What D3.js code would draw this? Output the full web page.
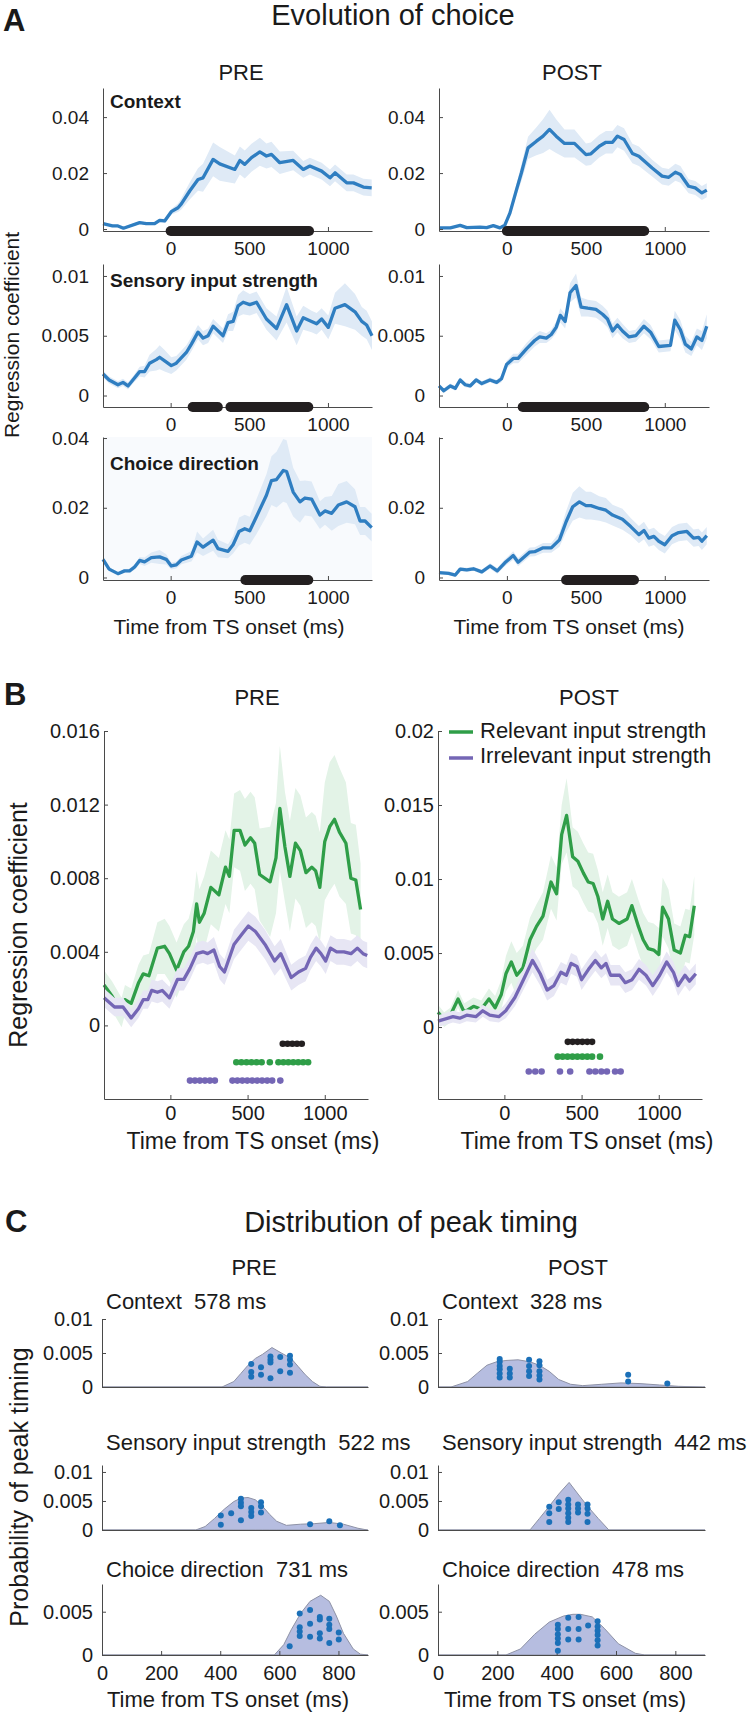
<!DOCTYPE html>
<html>
<head>
<meta charset="utf-8">
<script src="https://cdn.jsdelivr.net/npm/d3@7"></script>
<style>
  body { margin: 0; background: #fff; }
</style>
</head>
<body>
<script>
// ---------- Panel A: [time ms, coefficient, sem] ----------
const preContext = [[-430,.0019,.0005],[-370,.0011,.0005],[-335,.0011,.0005],[-300,.0003,.0005],[-197,.0023,.0005],[-155,.0019,.0005],[-102,.0019,.0005],[-70,.0031,.0006],[-38,.0029,.0008],[4,.0062,.001],[47,.0076,.0015],[68,.009,.002],[121,.0136,.003],[174,.0177,.004],[206,.0183,.005],[270,.0249,.006],[312,.0233,.006],[408,.0213,.005],[440,.0245,.005],[471,.0231,.005],[514,.0255,.005],[567,.0276,.005],[609,.0261,.0045],[641,.0267,.0045],[694,.0237,.004],[779,.0245,.0035],[843,.0213,.003],[885,.0225,.003],[960,.0207,.003],[1013,.0183,.003],[1045,.0201,.003],[1119,.0165,.003],[1162,.0165,.003],[1225,.015,.003],[1278,.0147,.003]];
const postContext = [[-430,.0004,.0004],[-358,.0004,.0004],[-296,.0013,.0004],[-254,.0005,.0004],[-170,.0007,.0004],[-128,.0005,.0004],[-86,.0012,.0004],[-44,.0004,.0004],[-13,.0014,.0005],[19,.0057,.001],[61,.0141,.002],[92,.0201,.003],[134,.029,.004],[187,.0314,.005],[229,.0332,.006],[270,.0356,.007],[312,.0332,.006],[365,.0306,.005],[428,.0306,.005],[501,.0266,.004],[532,.0269,.004],[585,.0296,.004],[627,.031,.004],[669,.031,.004],[700,.0332,.004],[742,.032,.004],[795,.027,.0035],[836,.026,.0035],[920,.0218,.003],[983,.0189,.003],[1025,.0185,.003],[1067,.0203,.003],[1099,.0195,.003],[1151,.0153,.0025],[1193,.0147,.0025],[1235,.0129,.0025],[1266,.0139,.0025]];
const preSensory = [[-430,.0018,.0003],[-391,.0013,.0003],[-335,.0009,.0003],[-303,.0011,.0003],[-271,.0008,.0003],[-240,.0013,.0003],[-197,.002,.0004],[-166,.002,.0005],[-134,.0027,.0007],[-91,.003,.0009],[-70,.0032,.001],[-38,.0029,.0009],[4,.0025,.0007],[36,.0027,.0006],[100,.0036,.0006],[132,.0043,.0006],[174,.0053,.0006],[206,.0048,.0006],[238,.005,.0006],[270,.0058,.0006],[333,.005,.0006],[365,.0061,.0007],[397,.0062,.0008],[429,.0075,.0009],[461,.0078,.001],[503,.0076,.0009],[546,.0078,.0009],[609,.0064,.0009],[673,.0056,.001],[737,.0076,.0015],[801,.0054,.0012],[843,.0065,.001],[896,.0062,.0009],[928,.006,.0009],[960,.0064,.0009],[1002,.0057,.001],[1045,.0073,.0013],[1108,.0076,.0018],[1172,.007,.0015],[1215,.0062,.0012],[1246,.0059,.0012],[1280,.005,.0012]];
const postSensory = [[-430,.0008,.0002],[-400,.0004,.0002],[-358,.0008,.0002],[-327,.0006,.0002],[-296,.0013,.0002],[-264,.0009,.0002],[-233,.0008,.0002],[-195,.0013,.0002],[-159,.001,.0002],[-107,.0013,.0002],[-65,.0011,.0002],[-34,.0014,.0003],[-2,.0026,.0003],[40,.0031,.0004],[71,.0031,.0004],[124,.0039,.0005],[176,.0046,.0005],[208,.0049,.0005],[250,.0048,.0004],[281,.0051,.0004],[312,.0057,.0005],[338,.0067,.0006],[369,.0062,.0006],[400,.0086,.0008],[438,.0092,.001],[470,.0074,.0008],[512,.0073,.0007],[564,.0072,.0007],[606,.0068,.0007],[637,.0064,.0007],[669,.0054,.0006],[700,.0059,.0006],[732,.0054,.0006],[774,.0049,.0005],[816,.005,.0005],[868,.0058,.0006],[910,.0053,.0006],[962,.0041,.0005],[1036,.0042,.0005],[1063,.0063,.0008],[1099,.0055,.0008],[1130,.0043,.0007],[1168,.0039,.0006],[1203,.0049,.0007],[1235,.0046,.0008],[1266,.0058,.001]];
const preChoice = [[-430,.0052,.0008],[-391,.0024,.0006],[-335,.0011,.0005],[-293,.0019,.0005],[-261,.0019,.0006],[-229,.003,.0008],[-197,.0049,.001],[-166,.0045,.0012],[-123,.0057,.0015],[-70,.0059,.002],[-28,.0052,.0015],[4,.0033,.001],[36,.0036,.001],[68,.005,.0012],[132,.0061,.0015],[168,.0102,.003],[206,.0087,.0025],[270,.0107,.003],[301,.0083,.0025],[365,.0075,.002],[397,.0094,.0025],[435,.0132,.004],[471,.014,.004],[503,.0134,.004],[546,.0175,.005],[609,.0236,.006],[641,.0278,.007],[673,.0281,.008],[716,.0307,.009],[737,.0304,.009],[779,.0245,.007],[822,.0217,.006],[854,.0228,.005],[896,.0225,.005],[949,.0179,.004],[981,.0191,.004],[1024,.0184,.005],[1066,.0208,.006],[1119,.0217,.006],[1172,.0203,.005],[1204,.0162,.004],[1236,.0162,.004],[1278,.0143,.004]];
const postChoice = [[-430,.0014,.0005],[-369,.0012,.0005],[-327,.0007,.0005],[-296,.0024,.0006],[-254,.0022,.0006],[-212,.0025,.0006],[-159,.0016,.0006],[-107,.0033,.0008],[-61,.0019,.0008],[-13,.0042,.001],[40,.0063,.0012],[71,.0044,.0012],[145,.0073,.0013],[176,.0074,.0013],[229,.0085,.0014],[281,.0085,.0014],[333,.0108,.002],[375,.016,.003],[417,.0203,.004],[459,.0217,.0045],[501,.0206,.004],[532,.0206,.004],[585,.0198,.0035],[627,.0193,.0035],[669,.0179,.003],[732,.0167,.003],[784,.0146,.0025],[836,.0123,.0025],[868,.0135,.0025],[899,.0113,.0025],[931,.0118,.0025],[962,.0104,.0025],[1000,.0094,.0025],[1046,.012,.0025],[1088,.0129,.0025],[1140,.0132,.0025],[1182,.0113,.0025],[1214,.0115,.0025],[1235,.0104,.0025],[1266,.012,.0025]];
// significant intervals (ms)
const preContextSig = [[0, 880]];
const postContextSig = [[0, 870]];
const preSensorySig = [[140, 300], [380, 875]];
const postSensorySig = [[100, 870]];
const preChoiceSig = [[475, 875]];
const postChoiceSig = [[375, 805]];

const xTicksAB = [0, 500, 1000];
const yTicksA1 = [0, 0.02, 0.04];
const yTicksA2 = [0, 0.005, 0.01];
const yTicksA3 = [0, 0.02, 0.04];

// ---------- Panel B ----------
const preRelevant = [[-430,.0022,.0008],[-378,.0016,.0008],[-316,.0007,.0008],[-294,.0014,.0008],[-254,.0012,.0008],[-207,.0023,.001],[-176,.0028,.001],[-139,.0027,.0012],[-84,.0042,.0014],[-37,.0043,.0015],[-6,.0039,.0015],[40,.003,.0015],[87,.004,.0015],[118,.0043,.0015],[149,.0051,.0017],[170,.0066,.0018],[188,.0056,.0018],[219,.0061,.002],[262,.0075,.002],[314,.0071,.002],[357,.0086,.002],[382,.0081,.002],[413,.0106,.002],[451,.0106,.0022],[483,.0098,.0025],[519,.0102,.0025],[546,.0099,.0025],[578,.0082,.0025],[646,.0078,.003],[684,.0091,.003],[709,.0118,.0034],[742,.0097,.003],[774,.0081,.003],[810,.0099,.003],[842,.0095,.003],[878,.0083,.003],[916,.0086,.003],[941,.0084,.003],[968,.0075,.003],[1000,.01,.0032],[1032,.0108,.0035],[1063,.0112,.0035],[1095,.0105,.0035],[1137,.0099,.0033],[1169,.008,.003],[1201,.0079,.003],[1232,.0063,.0025]];
const preIrrelevant = [[-430,.0015,.0005],[-362,.001,.0005],[-307,.001,.0005],[-254,.0004,.0005],[-207,.0009,.0005],[-176,.0014,.0005],[-146,.0014,.0005],[-121,.0019,.0006],[-84,.0018,.0006],[-53,.0019,.0006],[-6,.0015,.0006],[46,.0025,.0006],[87,.0025,.0006],[127,.0031,.0006],[170,.0039,.0006],[211,.004,.0006],[241,.0039,.0006],[282,.0041,.0007],[319,.0032,.0007],[350,.0029,.0007],[412,.0044,.0008],[458,.0049,.0008],[505,.0054,.0008],[551,.0051,.0008],[613,.0044,.0008],[675,.0035,.0008],[715,.0039,.0008],[783,.0026,.0007],[830,.0029,.0007],[876,.0031,.0007],[907,.0037,.0007],[944,.0042,.0007],[975,.0039,.0007],[1006,.0035,.0007],[1037,.0042,.0007],[1077,.004,.0007],[1124,.004,.0007],[1170,.0039,.0007],[1211,.0042,.0007],[1248,.0039,.0007],[1275,.0038,.0007]];
const postRelevant = [[-430,.001,.0005],[-390,.0005,.0005],[-350,.0008,.0005],[-300,.0019,.0006],[-260,.001,.0006],[-200,.0014,.0006],[-150,.0012,.0006],[-100,.0019,.0007],[-60,.0013,.0008],[-20,.0022,.001],[10,.0036,.0012],[45,.0044,.0014],[80,.0035,.0015],[120,.004,.0015],[166,.0059,.0015],[208,.0068,.0015],[250,.0075,.0016],[302,.0098,.0018],[338,.009,.0018],[371,.013,.002],[403,.0143,.0025],[442,.0115,.002],[476,.0112,.002],[512,.0104,.002],[543,.0098,.002],[575,.0097,.002],[606,.0088,.0018],[637,.0073,.0018],[669,.0085,.0018],[700,.0073,.0018],[742,.007,.0018],[795,.0073,.0018],[826,.0082,.0018],[868,.0068,.0018],[899,.0059,.0018],[932,.0053,.0018],[967,.0052,.0018],[1000,.0049,.0018],[1025,.0081,.002],[1063,.0073,.002],[1100,.0052,.0018],[1140,.005,.0018],[1172,.0062,.0018],[1200,.0061,.0018],[1230,.0082,.002]];
const postIrrelevant = [[-430,.0004,.0004],[-333,.0007,.0004],[-289,.0006,.0004],[-244,.0008,.0004],[-185,.0007,.0004],[-140,.0011,.0004],[-95,.0008,.0004],[-36,.0007,.0004],[9,.0011,.0005],[68,.002,.0006],[128,.0033,.0007],[182,.0045,.0008],[232,.0036,.0008],[277,.0025,.0007],[321,.0028,.0007],[366,.0037,.0007],[402,.0035,.0007],[432,.0043,.0007],[470,.0041,.0007],[500,.0032,.0007],[545,.0039,.0007],[589,.0045,.0007],[628,.004,.0007],[658,.0043,.0007],[688,.0035,.0007],[747,.0035,.0007],[783,.003,.0007],[827,.0032,.0007],[872,.0039,.0007],[917,.0035,.0007],[961,.0028,.0007],[1006,.0035,.0007],[1051,.0044,.0007],[1095,.0037,.0007],[1125,.0028,.0007],[1170,.0035,.0007],[1199,.0031,.0007],[1240,.0036,.0007]];
// significance dots (ms)
const preBothDots = [728, 759, 790, 820, 851];
const preRelDots = [427, 460, 493, 525, 558, 591, 644, 700, 732, 764, 796, 828, 860, 892];
const preIrrDots = [127, 159, 191, 224, 256, 288, 402, 434, 466, 498, 530, 562, 594, 627, 659, 712];
const postBothDots = [411, 442, 474, 505, 537, 568];
const postRelDots = [345, 377, 409, 441, 473, 505, 537, 568, 619];
const postIrrDots = [158, 200, 241, 360, 426, 551, 589, 628, 664, 717, 753];
const yTicksBPre = [0, 0.004, 0.008, 0.012, 0.016];
const yTicksBPost = [0, 0.005, 0.01, 0.015, 0.02];
const legendLabels = ["Relevant input strength", "Irrelevant input strength"];

// ---------- Panel C: density [ms, p] and peaks [ms, p] ----------
const preCtxKde = [[0,0],[406,0],[446,.0008],[470,.002],[494,.0032],[519,.0042],[543,.0048],[575,.0058],[607,.005],[640,.0042],[664,.003],[688,.0018],[712,.0008],[737,.0001],[760,0],[900,0]];
const postCtxKde = [[0,0],[44,0],[100,.0008],[132,.002],[165,.0032],[197,.0037],[229,.0039],[270,.004],[310,.0037],[342,.0032],[375,.0023],[407,.0011],[447,.0004],[488,.0002],[552,.0004],[617,.0006],[681,.0005],[746,.0003],[810,.0001],[891,0],[900,0]];
const preSenKde = [[0,0],[317,0],[349,.0006],[381,.002],[414,.0036],[446,.0049],[470,.0055],[494,.0056],[519,.0052],[543,.0041],[567,.0027],[591,.0015],[624,.0008],[672,.001],[720,.0011],[769,.0013],[817,.001],[866,.0003],[898,0],[900,0]];
const postSenKde = [[0,0],[310,0],[342,.002],[375,.0041],[407,.0062],[442,.0082],[472,.0062],[504,.0041],[540,.002],[576,0],[900,0]];
const preChoKde = [[0,0],[583,0],[615,.0012],[640,.0029],[672,.0048],[704,.0062],[740,.0069],[769,.0062],[793,.0045],[817,.0025],[850,.0007],[874,.0001],[900,0]];
const postChoKde = [[0,0],[229,0],[278,.0007],[326,.0024],[375,.0038],[423,.0045],[455,.0047],[480,.0047],[520,.0044],[560,.0031],[608,.0013],[665,.0002],[697,0],[900,0]];
const preCtxDots = [[505,.0034],[505,.0022],[505,.0015],[538,.0029],[538,.0018],[570,.0045],[570,.004],[570,.0036],[570,.0013],[603,.0044],[603,.0023],[636,.0046],[636,.004],[636,.0033],[636,.0021]];
const postCtxDots = [[208,.0041],[208,.0037],[208,.0031],[208,.0026],[208,.002],[208,.0014],[242,.0027],[242,.002],[242,.0014],[307,.004],[307,.0031],[307,.0023],[307,.0016],[342,.0038],[342,.0032],[342,.0023],[342,.0017],[342,.0011],[641,.0018],[641,.0008],[773,.0005]];
const preSenDots = [[402,.0025],[402,.0009],[437,.0029],[470,.0054],[470,.0047],[470,.0041],[470,.0017],[505,.0038],[505,.0031],[505,.0024],[538,.0048],[538,.0041],[538,.003],[704,.001],[769,.0015],[805,.0008]];
const postSenDots = [[375,.004],[375,.0029],[375,.0014],[407,.0048],[407,.0036],[439,.0052],[439,.0044],[439,.0037],[439,.0029],[439,.0021],[439,.0014],[472,.0044],[472,.0037],[472,.003],[504,.0044],[504,.0037],[504,.0028],[504,.0014]];
const preChoDots = [[635,.001],[669,.0048],[669,.0032],[669,.0027],[669,.0022],[704,.0052],[704,.0036],[704,.0021],[737,.0044],[737,.0041],[737,.0025],[737,.0019],[769,.0042],[769,.0035],[769,.003],[769,.0014],[801,.0026],[801,.0018]];
const postChoDots = [[404,.0035],[404,.003],[404,.0024],[404,.0019],[404,.0014],[404,.0005],[439,.0043],[439,.003],[439,.0018],[474,.0044],[474,.003],[474,.0018],[506,.0034],[538,.0039],[538,.0033],[538,.0028],[538,.0023],[538,.0017],[538,.0011]];
const cTitles = ["Context", "Sensory input strength", "Choice direction"];
const prePeaks = [578, 522, 731];
const postPeaks = [328, 442, 478];
const xTicksC = [0, 200, 400, 600, 800];
const yTicksC12 = [0, 0.005, 0.01];
const yTicksC3 = [0, 0.005];

// ---------- drawing ----------
const FONT = 'Arial, "Liberation Sans", Helvetica, sans-serif';
const INK = "#1a1a1a";
const AXIS = "#4a4a4a";

const svg = d3.select("body").append("svg")
    .attr("width", 747)
    .attr("height", 1717)
    .style("background", "#fff");

function label(x, y, str, size, anchor = "start", weight = "normal") {
    return svg.append("text")
        .attr("x", x).attr("y", y)
        .attr("font-family", FONT).attr("font-size", size)
        .attr("font-weight", weight).attr("text-anchor", anchor)
        .attr("fill", INK).style("white-space", "pre")
        .text(str);
}

function vlabel(x, y, str, size) {
    svg.append("text")
        .attr("transform", `translate(${x},${y}) rotate(-90)`)
        .attr("font-family", FONT).attr("font-size", size)
        .attr("text-anchor", "middle").attr("fill", INK)
        .text(str);
}

// axes box (MATLAB style: inward ticks, no outer ticks)
function axes(c) {
    const x = d3.scaleLinear().domain(c.xd).range(c.xr);
    const y = d3.scaleLinear().domain(c.yd).range(c.yr);
    const root = svg.append("g");
    const data = root.append("g");
    const ax = root.append("g");
    const top = root.append("g");
    ax.append("g").attr("transform", `translate(${c.xr[0]},0)`)
        .call(d3.axisLeft(y).tickValues(c.yTicks).tickFormat(d => String(d))
            .tickSize(-4).tickSizeOuter(0).tickPadding(c.yPad));
    ax.append("g").attr("transform", `translate(0,${c.yr[0]})`)
        .call(d3.axisBottom(x).tickValues(c.xTicks).tickFormat(d => String(d))
            .tickSize(-4).tickSizeOuter(0).tickPadding(c.xPad));
    ax.selectAll(".domain, .tick line").attr("stroke", AXIS).attr("stroke-width", 1);
    ax.selectAll(".tick text").attr("font-family", FONT).attr("font-size", c.fs).attr("fill", INK);
    return {x, y, data, top, c};
}

function timeCourse(a, series, color, band) {
    a.data.append("path").datum(series)
        .attr("fill", band)
        .attr("d", d3.area().x(d => a.x(d[0])).y0(d => a.y(d[1] - d[2])).y1(d => a.y(d[1] + d[2])));
    a.data.append("path").datum(series)
        .attr("fill", "none").attr("stroke", color).attr("stroke-width", 3.3)
        .attr("stroke-linejoin", "round")
        .attr("d", d3.line().x(d => a.x(d[0])).y(d => a.y(d[1])));
}

// ===== Panel A =====
label(3, 31, "A", 31, "start", "bold");
label(393, 25, "Evolution of choice", 29, "middle");
label(241, 80, "PRE", 22, "middle");
label(572, 80, "POST", 22, "middle");

const aRows = [
    {pre: preContext, post: postContext, preSig: preContextSig, postSig: postContextSig,
     yd: [-0.0007, 0.0504], yr: [231, 88], yTicks: yTicksA1, name: "Context", ny: 108},
    {pre: preSensory, post: postSensory, preSig: preSensorySig, postSig: postSensorySig,
     yd: [-0.00096, 0.011], yr: [407, 264], yTicks: yTicksA2, name: "Sensory input strength", ny: 287},
    {pre: preChoice, post: postChoice, preSig: preChoiceSig, postSig: postChoiceSig,
     yd: [-0.00072, 0.0403], yr: [580, 437], yTicks: yTicksA3, name: "Choice direction", ny: 470}
];

aRows.forEach((r, i) => {
    [[103, 372, r.pre, r.preSig], [439, 709, r.post, r.postSig]].forEach(([x0, x1, series, sig], j) => {
        const a = axes({xd: [-430, 1280], xr: [x0, x1], yd: r.yd, yr: r.yr,
            yTicks: r.yTicks, xTicks: xTicksAB, xPad: 11, yPad: 14, fs: 19});
        if (i === 2 && j === 0) {
            a.data.append("rect").attr("x", x0).attr("y", r.yr[1])
                .attr("width", x1 - x0).attr("height", r.yr[0] - r.yr[1]).attr("fill", "#f8fafd");
        }
        timeCourse(a, series, "#2f7ec1", "#dfeaf6");
        sig.forEach(s => {
            a.top.append("line")
                .attr("x1", a.x(s[0])).attr("x2", a.x(s[1]))
                .attr("y1", r.yr[0]).attr("y2", r.yr[0])
                .attr("stroke", "#231f20").attr("stroke-width", 10).attr("stroke-linecap", "round");
        });
    });
    label(110, r.ny, r.name, 19, "start", "bold");
});
vlabel(19, 335, "Regression coefficient", 21);
label(229, 634, "Time from TS onset (ms)", 21, "middle");
label(569, 634, "Time from TS onset (ms)", 21, "middle");

// ===== Panel B =====
label(4, 705, "B", 31, "start", "bold");
label(257, 705, "PRE", 22, "middle");
label(589, 705, "POST", 22, "middle");

const GREEN = "#2f9e48", PURPLE = "#7466b5";
const bPanels = [
    {xr: [104, 368], yd: [-0.004, 0.016], yTicks: yTicksBPre, rel: preRelevant, irr: preIrrelevant,
     both: preBothDots, relD: preRelDots, irrD: preIrrDots},
    {xr: [438, 702], yd: [-0.00486, 0.02], yTicks: yTicksBPost, rel: postRelevant, irr: postIrrelevant,
     both: postBothDots, relD: postRelDots, irrD: postIrrDots}
];
bPanels.forEach(p => {
    const a = axes({xd: [-430, 1280], xr: p.xr, yd: p.yd, yr: [1099, 731],
        yTicks: p.yTicks, xTicks: xTicksAB, xPad: 7, yPad: 4, fs: 20});
    timeCourse(a, p.rel, GREEN, "#e3f3e7");
    timeCourse(a, p.irr, PURPLE, "#e7e6f4");
    [[p.both, -0.001, "#231f20"], [p.relD, -0.002, GREEN], [p.irrD, -0.003, PURPLE]].forEach(([ts, lv, col]) => {
        a.top.selectAll(null).data(ts).enter().append("circle")
            .attr("cx", d => a.x(d)).attr("cy", a.y(lv)).attr("r", 3.3).attr("fill", col);
    });
});
// legend
[[GREEN, 732, 738], [PURPLE, 758, 763]].forEach(([col, ly, ty], i) => {
    svg.append("line").attr("x1", 449).attr("x2", 473).attr("y1", ly).attr("y2", ly)
        .attr("stroke", col).attr("stroke-width", 3.5);
    label(480, ty, legendLabels[i], 22);
});
vlabel(27, 925, "Regression coefficient", 25);
label(253, 1149, "Time from TS onset (ms)", 23, "middle");
label(587, 1149, "Time from TS onset (ms)", 23, "middle");

// ===== Panel C =====
label(5, 1232, "C", 31, "start", "bold");
label(411, 1232, "Distribution of peak timing", 29, "middle");
label(254, 1275, "PRE", 22, "middle");
label(578, 1275, "POST", 22, "middle");

const cRows = [
    {pre: [preCtxKde, preCtxDots], post: [postCtxKde, postCtxDots], yd: [0, 0.01], yr: [1387, 1319], yTicks: yTicksC12, ty: 1309, xt: []},
    {pre: [preSenKde, preSenDots], post: [postSenKde, postSenDots], yd: [0, 0.0112], yr: [1530, 1465], yTicks: yTicksC12, ty: 1450, xt: []},
    {pre: [preChoKde, preChoDots], post: [postChoKde, postChoDots], yd: [0, 0.0082], yr: [1655, 1584], yTicks: yTicksC3, ty: 1577, xt: xTicksC}
];
cRows.forEach((r, i) => {
    [[102, 368, r.pre, prePeaks[i]], [438, 705, r.post, postPeaks[i]]].forEach(([x0, x1, [kde, dots], peak]) => {
        const a = axes({xd: [0, 900], xr: [x0, x1], yd: r.yd, yr: r.yr,
            yTicks: r.yTicks, xTicks: r.xt, xPad: 11, yPad: 9, fs: 20});
        a.data.append("path").datum(kde)
            .attr("fill", "#b6bde0").attr("stroke", "#8e92a6").attr("stroke-width", 1)
            .attr("d", d3.area().x(d => a.x(d[0])).y0(a.y(0)).y1(d => a.y(d[1])));
        a.top.selectAll(null).data(dots).enter().append("circle")
            .attr("cx", d => a.x(d[0])).attr("cy", d => a.y(d[1])).attr("r", 3)
            .attr("fill", "#1b70b8");
        label(x0 + 4, r.ty, `${cTitles[i]}  ${peak} ms`, 22);
    });
});
vlabel(28, 1487, "Probability of peak timing", 25);
label(228, 1707, "Time from TS onset (ms)", 22, "middle");
label(565, 1707, "Time from TS onset (ms)", 22, "middle");
</script>
</body>
</html>
